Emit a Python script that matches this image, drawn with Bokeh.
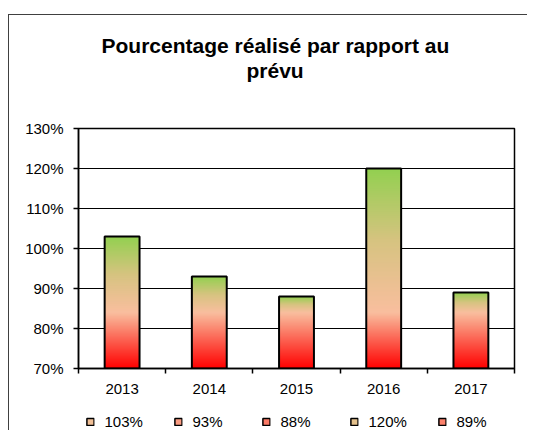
import numpy as np
from bokeh.plotting import figure
from bokeh.layouts import column
from bokeh.models import (Range1d, FixedTicker, PrintfTickFormatter,
                          Legend, LegendItem, Title)
from bokeh.embed import file_html
from bokeh.resources import INLINE

# ---- data ----
years = ["2013", "2014", "2015", "2016", "2017"]
pct = [103, 93, 88, 120, 89]
legend_labels = ["103%", "93%", "88%", "120%", "89%"]
y_ticks = [70, 80, 90, 100, 110, 120, 130]
title_line1 = "Pourcentage réalisé par rapport au"
title_line2 = "prévu"

FONT = "Liberation Sans"
BASE = 70
RED = (255, 0, 0)
PEACH = (249, 190, 158)
TAN = (214, 195, 128)
GREEN = (146, 208, 80)


def mix(a, b, t):
    return tuple(int(round(a[k] + (b[k] - a[k]) * t)) for k in range(3))


def grad(v, top):
    peach_at = 84.0
    tan_at = (peach_at + top) / 2.0
    if v <= peach_at:
        c = mix(RED, PEACH, (v - BASE) / (peach_at - BASE))
    elif v <= tan_at:
        c = mix(PEACH, TAN, (v - peach_at) / (tan_at - peach_at))
    else:
        c = mix(TAN, GREEN, (v - tan_at) / (top - tan_at))
    return "#%02x%02x%02x" % c


xs = [i + 0.5 for i in range(len(years))]

sx, sb, st, sc = [], [], [], []
for x, top in zip(xs, pct):
    for v in np.arange(BASE, top, 0.25):
        sx.append(x)
        sb.append(float(v))
        st.append(top)
        sc.append(grad(float(v) + 0.125, top))

p = figure(width=518, height=387, output_backend="svg", toolbar_location=None,
           x_range=Range1d(0, len(years)), y_range=Range1d(70, 130),
           min_border_left=69, min_border_right=13, min_border_top=113,
           min_border_bottom=34, background_fill_color="white",
           border_fill_color="white", outline_line_color="black",
           outline_line_width=1.5)

# titles: p.title is outermost; earlier add_layout calls sit closer to the frame
p.add_layout(Title(text=" ", align="left", text_font=FONT,
                   text_font_size="21px", standoff=22), "above")
p.add_layout(Title(text=title_line2, align="left", offset=168, text_font=FONT,
                   text_font_size="21px", text_font_style="bold",
                   text_color="black", standoff=0), "above")
p.title.text = title_line1
p.title.align = "left"
p.title.offset = 23
p.title.text_font = FONT
p.title.text_font_size = "21px"
p.title.text_font_style = "bold"
p.title.text_color = "black"
p.title.standoff = 0

p.vbar(x=sx, bottom=sb, top=st, width=0.4, fill_color=sc, line_color=None)
p.vbar(x=xs, bottom=[BASE] * len(xs), top=pct, width=0.4, fill_color=None,
       line_color="black", line_width=2)

# axes
p.xaxis.ticker = FixedTicker(ticks=xs, minor_ticks=list(range(len(years) + 1)))
p.xaxis.major_label_overrides = {x: y for x, y in zip(xs, years)}
p.xaxis.major_tick_out = 0
p.xaxis.major_tick_in = 0
p.xaxis.minor_tick_out = 5
p.xaxis.minor_tick_in = 0
p.xaxis.minor_tick_line_color = "black"
p.xaxis.minor_tick_line_width = 1.5
p.xaxis.major_label_standoff = 10

p.yaxis.ticker = FixedTicker(ticks=y_ticks)
p.yaxis.formatter = PrintfTickFormatter(format="%d%%")
p.yaxis.major_tick_out = 5
p.yaxis.major_tick_in = 0
p.yaxis.minor_tick_line_color = None
p.yaxis.major_label_standoff = 10

for ax in (p.xaxis[0], p.yaxis[0]):
    ax.axis_line_color = "black"
    ax.axis_line_width = 1.5
    ax.major_tick_line_color = "black"
    ax.major_tick_line_width = 1.5
    ax.major_label_text_font = FONT
    ax.major_label_text_font_size = "15px"
    ax.major_label_text_color = "black"

p.xgrid.grid_line_color = None
p.ygrid.grid_line_color = "black"
p.ygrid.grid_line_width = 1

# legend strip in its own small figure, same horizontal frame as the chart
lp = figure(width=518, height=28, output_backend="svg", toolbar_location=None,
            x_range=Range1d(0, len(years)), y_range=Range1d(70, 130),
            x_axis_type=None, y_axis_type=None,
            min_border_left=69, min_border_right=13, min_border_top=0,
            min_border_bottom=0, outline_line_color=None,
            background_fill_color="white", border_fill_color="white")
lp.xgrid.grid_line_color = None
lp.ygrid.grid_line_color = None

items = []
for x, top, lab in zip(xs, pct, legend_labels):
    r = lp.vbar(x=[x], top=[top], width=0.4,
                fill_color=grad((BASE + top) / 2.0, top),
                line_color="black", line_width=1.5, visible=False)
    items.append(LegendItem(label=lab, renderers=[r]))

legend = Legend(items=items, orientation="horizontal", location="bottom_center",
                glyph_width=9, glyph_height=9, label_standoff=10, label_width=50,
                spacing=19, padding=0, margin=0, border_line_color=None,
                background_fill_alpha=0, inactive_fill_alpha=0,
                label_text_font=FONT, label_text_font_size="15px",
                label_text_color="black")
lp.add_layout(legend, "center")

layout = column(p, lp, spacing=0, margin=(14, 0, 0, 8),
                styles={"border-left": "1px solid #404040",
                        "border-top": "1px solid #404040"})

open("out.html", "w").write(file_html(layout, INLINE))
